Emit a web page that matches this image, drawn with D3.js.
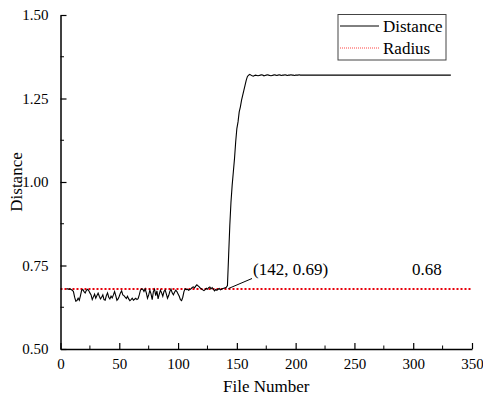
<!DOCTYPE html>
<html>
<head>
<meta charset="utf-8">
<script src="https://cdn.jsdelivr.net/npm/d3@7"></script>
<style>
  body { margin: 0; background: #fff; font-family: "Times New Roman", "Liberation Serif", serif; }
</style>
</head>
<body>
<svg id="chart" width="483" height="400"></svg>
<script>
// file numbers and distance values
const fileStart = 5;
const distance = [
  0.680, 0.680, 0.679, 0.680, 0.678, 0.676, 0.672,           // 5-11
  0.655, 0.643, 0.645, 0.652, 0.646, 0.660, 0.676, 0.678,    // 12-19
  0.672, 0.668, 0.676, 0.679, 0.675, 0.668, 0.662, 0.648,    // 20-27
  0.656, 0.664, 0.652, 0.660, 0.667, 0.658, 0.650, 0.655,    // 28-35
  0.662, 0.648, 0.646, 0.660, 0.668, 0.655, 0.650, 0.658,    // 36-43
  0.653, 0.662, 0.672, 0.660, 0.646, 0.650, 0.658, 0.668,    // 44-51
  0.674, 0.662, 0.660, 0.655, 0.651, 0.658, 0.650, 0.645,    // 52-59
  0.648, 0.652, 0.646, 0.649, 0.652, 0.648, 0.651, 0.662,    // 60-67
  0.676, 0.680, 0.679, 0.672, 0.680, 0.668, 0.652, 0.662,    // 68-75
  0.676, 0.665, 0.648, 0.672, 0.679, 0.660, 0.674, 0.650,    // 76-83
  0.664, 0.676, 0.668, 0.658, 0.672, 0.677, 0.665, 0.652,    // 84-91
  0.660, 0.672, 0.679, 0.668, 0.662, 0.670, 0.676, 0.672,    // 92-99
  0.665, 0.658, 0.648, 0.645, 0.655, 0.672, 0.680, 0.678,    // 100-107
  0.679, 0.676, 0.678, 0.680, 0.684, 0.686, 0.683, 0.688,    // 108-115
  0.692, 0.689, 0.686, 0.682, 0.680, 0.677, 0.675, 0.678,    // 116-123
  0.682, 0.679, 0.684, 0.686, 0.680, 0.684, 0.679, 0.674,    // 124-131
  0.678, 0.676, 0.679, 0.681, 0.677, 0.679, 0.681, 0.682,    // 132-139
  0.683, 0.685, 0.690,                                       // 140-142
  0.780, 0.870, 0.940, 0.990, 1.030, 1.070, 1.120, 1.160,    // 143-150
  1.180, 1.210, 1.225, 1.245, 1.260, 1.275, 1.290, 1.305,    // 151-158
  1.316, 1.320, 1.322, 1.320, 1.318, 1.317, 1.319, 1.320,    // 159-166
  1.319, 1.318, 1.319, 1.320, 1.321, 1.320, 1.318, 1.319,    // 167-174
  1.320, 1.321, 1.320, 1.319, 1.318, 1.319, 1.320, 1.321,    // 175-182
  1.320, 1.319, 1.320, 1.321, 1.320, 1.319, 1.320, 1.320,    // 183-190
  1.321, 1.320, 1.319, 1.320, 1.320, 1.321, 1.320, 1.320,    // 191-198
  1.319, 1.320, 1.320, 1.320, 1.321, 1.320, 1.320, 1.320     // 199-206
];
const flatEnd = 332;
const flatValue = 1.32;
const radius = 0.68;
const xTicks = [0, 50, 100, 150, 200, 250, 300, 350];
const yTicks = [0.50, 0.75, 1.00, 1.25, 1.50];
const legendNames = ["Distance", "Radius"];

const fontFam = '"Times New Roman"';

const data = distance.map((v, i) => ({ file: fileStart + i, value: v }));
data.push({ file: flatEnd, value: flatValue });

const svg = d3.select("#chart");
const mLeft = 60.5, mRight = 472, mTop = 15, mBottom = 349;

const x = d3.scaleLinear().domain([0, 350]).range([mLeft, mRight]);
const y = d3.scaleLinear().domain([0.5, 1.5]).range([mBottom, mTop]);

// radius dotted line
svg.append("line")
  .attr("x1", x(0)).attr("x2", x(350))
  .attr("y1", y(radius)).attr("y2", y(radius))
  .attr("stroke", "#e8000b")
  .attr("stroke-width", 2)
  .attr("stroke-dasharray", "2,2");

// distance line
const line = d3.line().x(d => x(d.file)).y(d => y(d.value));
svg.append("path")
  .datum(data)
  .attr("d", line)
  .attr("fill", "none")
  .attr("stroke", "#000")
  .attr("stroke-width", 1.1);

// axes
const xMinor = d3.range(25, 350, 50);
const yMinor = [0.625, 0.875, 1.125, 1.375];

const gx = svg.append("g").attr("transform", `translate(0,${mBottom})`);
gx.call(d3.axisBottom(x).tickValues(xTicks).tickSizeInner(-6).tickSizeOuter(0).tickPadding(9).tickFormat(d3.format("d")));
xMinor.forEach(v => gx.append("line").attr("x1", x(v)).attr("x2", x(v)).attr("y1", 0).attr("y2", -3.5).attr("stroke", "#000"));

const gy = svg.append("g").attr("transform", `translate(${mLeft},0)`);
gy.call(d3.axisLeft(y).tickValues(yTicks).tickSizeInner(-6).tickSizeOuter(0).tickPadding(12).tickFormat(d3.format(".2f")));
yMinor.forEach(v => gy.append("line").attr("x1", 0).attr("x2", 3.5).attr("y1", y(v)).attr("y2", y(v)).attr("stroke", "#000"));

[gx, gy].forEach(g => {
  g.attr("font-family", fontFam).attr("font-size", 15);
  g.select(".domain").attr("stroke-width", 1.5);
  g.selectAll(".tick line").attr("stroke-width", 1.2);
  g.selectAll("text").attr("fill", "#000").style("font-family", fontFam);
});
gx.selectAll("text").attr("dy", "0.75em");

// axis titles
svg.append("text")
  .attr("x", (mLeft + mRight) / 2)
  .attr("y", 392)
  .attr("text-anchor", "middle")
  .style("font-family", fontFam)
  .style("font-size", "17px")
  .text("File Number");

svg.append("text")
  .attr("transform", `translate(22,${(mTop + mBottom) / 2}) rotate(-90)`)
  .attr("text-anchor", "middle")
  .style("font-family", fontFam)
  .style("font-size", "17px")
  .text("Distance");

// annotations
svg.append("line")
  .attr("x1", x(142) + 1).attr("y1", y(0.69) + 3)
  .attr("x2", 252).attr("y2", 278.5)
  .attr("stroke", "#000").attr("stroke-width", 1);
svg.append("text")
  .attr("x", 253).attr("y", 275)
  .style("font-family", fontFam)
  .style("font-size", "17px")
  .text("(142, 0.69)");
svg.append("text")
  .attr("x", 412).attr("y", 275)
  .style("font-family", fontFam)
  .style("font-size", "17px")
  .text("0.68");

// legend
const legend = svg.append("g");
legend.append("rect")
  .attr("x", 338).attr("y", 14.5)
  .attr("width", 108).attr("height", 45.5)
  .attr("fill", "#fff")
  .attr("stroke", "#444").attr("stroke-width", 1);
legendNames.forEach((name, i) => {
  const ly = 26 + i * 22;
  legend.append("line")
    .attr("x1", 340).attr("x2", 379)
    .attr("y1", ly).attr("y2", ly)
    .attr("stroke", i === 0 ? "#000" : "#f44")
    .attr("stroke-width", 1)
    .attr("stroke-dasharray", i === 0 ? null : "1,1");
  legend.append("text")
    .attr("x", 383).attr("y", ly + 5.5)
    .style("font-family", fontFam)
    .style("font-size", "17px")
    .text(name);
});
</script>
</body>
</html>
